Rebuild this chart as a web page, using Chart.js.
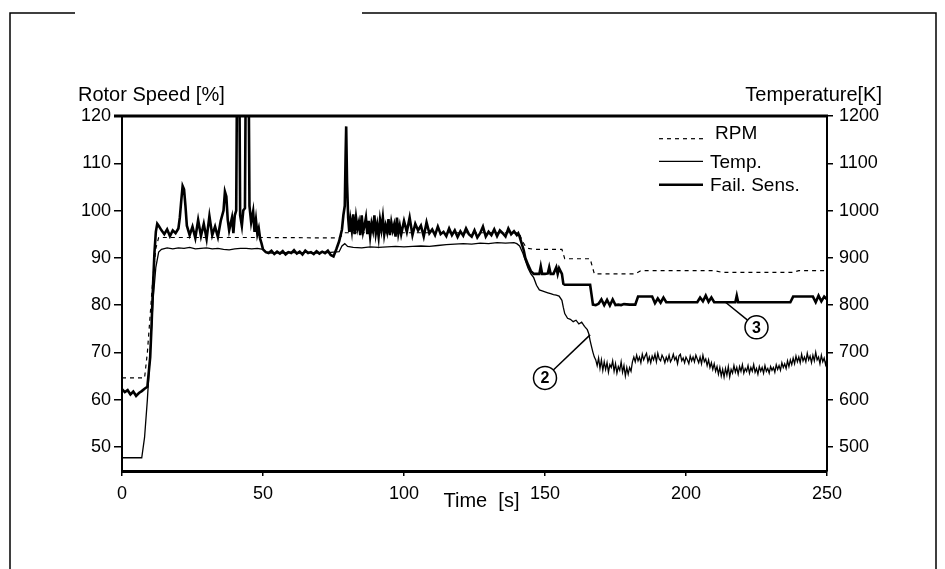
<!DOCTYPE html>
<html>
<head>
<meta charset="utf-8">
<title>Rotor speed and temperature</title>
<script src="https://cdn.jsdelivr.net/npm/chart.js@4.4.1/dist/chart.umd.min.js"></script>
<style>
  html, body { margin: 0; padding: 0; background: #fff; }
  canvas { display: block; }
</style>
</head>
<body>
<canvas id="chart" width="945" height="569"></canvas>
<script>
// tick labels
const timeTicks = [0, 50, 100, 150, 200, 250];
const speedTicks = [50, 60, 70, 80, 90, 100, 110, 120];
const tempTicks = [500, 600, 700, 800, 900, 1000, 1100, 1200];

// titles
const leftTitle = 'Rotor Speed [%]';
const rightTitle = 'Temperature[K]';
const xTitle = 'Time  [s]';
const seriesNames = ['RPM', 'Temp.', 'Fail. Sens.'];

// RPM, % (left axis)
const rpmT = [0, 8, 9, 10, 11, 12, 13, 49, 77, 79, 140, 141, 142, 143, 144, 146, 156, 157, 166, 167.5,
  182, 184, 210, 213, 238, 240, 250];
const rpmV = [64.6, 64.6, 70, 78, 86, 92, 94.3, 94.3, 94.2, 95.3, 95.3, 95, 93.5, 92.5, 92, 91.8, 91.8, 89.8, 89.8, 86.6,
  86.6, 87.3, 87.3, 86.9, 86.9, 87.3, 87.3];

// Temp., K (right axis)
const tempT = [
  0, 7, 8, 9, 10, 11, 12, 13, 14, 16,
  18, 20, 22, 24, 26, 28, 30, 32, 34, 36,
  38, 40, 42, 44, 46, 48, 50, 51, 53, 55,
  57, 59, 61, 63, 65, 67, 69, 71, 73, 75,
  77, 78, 79, 80, 82, 85, 88, 91, 94, 97,
  100, 103, 106, 109, 112, 115, 118, 121, 124, 127,
  130, 133, 136, 139, 140, 141, 142, 143, 144, 145,
  146, 147, 148, 149, 150, 151, 152, 153, 154, 155,
  156, 156.5, 157, 158, 159, 160, 161, 162, 163, 164,
  165, 165.5, 166, 166.5,
  167, 167.5, 168, 168.5, 169, 169.5, 170, 170.5, 171, 171.5,
  172, 172.5, 173, 173.5, 174, 174.5, 175, 175.5, 176, 176.5,
  177, 177.5, 178, 178.5, 179, 179.5, 180, 180.5, 181, 181.5,
  182, 182.5, 183, 183.5, 184, 184.5, 185, 185.5, 186, 186.5,
  187, 187.5, 188, 188.5, 189, 189.5, 190, 190.5, 191, 191.5,
  192, 192.5, 193, 193.5, 194, 194.5, 195, 195.5, 196, 196.5,
  197, 197.5, 198, 198.5, 199, 199.5, 200, 200.5, 201, 201.5,
  202, 202.5, 203, 203.5, 204, 204.5, 205, 205.5, 206, 206.5,
  207, 207.5, 208, 208.5, 209, 209.5, 210, 210.5, 211, 211.5,
  212, 212.5, 213, 213.5, 214, 214.5, 215, 215.5, 216, 216.5,
  217, 217.5, 218, 218.5, 219, 219.5, 220, 220.5, 221, 221.5,
  222, 222.5, 223, 223.5, 224, 224.5, 225, 225.5, 226, 226.5,
  227, 227.5, 228, 228.5, 229, 229.5, 230, 230.5, 231, 231.5,
  232, 232.5, 233, 233.5, 234, 234.5, 235, 235.5, 236, 236.5,
  237, 237.5, 238, 238.5, 239, 239.5, 240, 240.5, 241, 241.5,
  242, 242.5, 243, 243.5, 244, 244.5, 245, 245.5, 246, 246.5,
  247, 247.5, 248, 248.5, 249, 249.5, 250];
const tempK = [
  477, 477, 520, 600, 700, 810, 880, 912, 918, 921,
  919, 921, 920, 922, 919, 920, 921, 919, 920, 918,
  917, 919, 920, 920, 919, 920, 918, 912, 910, 911,
  910, 912, 911, 910, 912, 911, 910, 912, 911, 912,
  913, 925, 930, 924, 922, 921, 923, 922, 923, 924,
  923, 924, 925, 924, 926, 928, 929, 930, 929, 931,
  930, 932, 931, 932, 930, 925, 912, 895, 878, 866,
  858, 842, 832, 830, 828, 826, 824, 822, 821, 819,
  810, 795, 782, 772, 770, 765, 768, 760, 764, 755,
  748, 740, 725, 712,
  700, 690, 684, 672, 688, 666, 684, 662, 680, 664,
  678, 658, 674, 668, 682, 660, 676, 656, 670, 662,
  680, 658, 672, 650, 668, 654, 668, 660, 680, 690,
  680, 694, 682, 690, 678, 696, 684, 692, 698, 680,
  690, 678, 692, 684, 696, 680, 698, 686, 682, 694,
  688, 678, 690, 682, 694, 680, 686, 696, 684, 690,
  676, 692, 696, 682, 688, 678, 690, 684, 676, 692,
  682, 690, 680, 694, 686, 678, 690, 676, 694, 680,
  686, 672, 684, 668, 678, 664, 676, 660, 670, 654,
  668, 650, 664, 648, 666, 652, 670, 648, 664, 656,
  672, 658, 668, 654, 670, 660, 674, 656, 666, 660,
  672, 656, 668, 660, 674, 658, 666, 654, 670, 660,
  668, 656, 672, 660, 666, 656, 670, 662, 668, 658,
  674, 664, 672, 662, 678, 668, 676, 666, 682, 670,
  684, 674, 688, 676, 692, 680, 690, 678, 696, 682,
  690, 680, 698, 684, 692, 678, 694, 682, 700, 684,
  690, 676, 694, 680, 688, 674, 686];

// Fail. Sens., K (right axis)
const failT = [
  0, 1, 2, 3, 4, 5, 6, 7, 8, 9,
  10, 10.5, 11, 11.5, 12, 12.5, 13, 14, 15, 16,
  17, 18, 19, 20, 20.5, 21, 21.5, 22, 22.5, 23,
  24, 25, 26, 27, 28, 29, 30, 31, 32, 33,
  34, 35, 36, 36.5, 37, 37.5, 38, 39, 39.5, 40,
  40.5, 40.8, 41.6, 41.9, 42.5, 43, 43.6, 43.9, 44.9, 45.2,
  45.8, 46.5, 47, 47.5, 48, 48.5, 49, 49.5, 50, 51,
  52, 53, 54, 55, 56, 57, 58, 59, 60, 61,
  62, 63, 64, 65, 66, 67, 68, 69, 70, 71,
  72, 73, 74, 75, 76, 77, 78, 78.5, 79, 79.3,
  79.5, 79.8, 80.2, 80.6, 81, 81.5, 82, 82.5, 83, 83.5,
  84, 84.5, 85, 85.5, 86, 86.5, 87, 87.5, 88, 88.5,
  89, 89.5, 90, 90.5, 91, 91.5, 92, 92.5, 93, 93.5,
  94, 94.5, 95, 95.5, 96, 96.5, 97, 97.5, 98, 98.5,
  99, 100, 101, 102, 103, 104, 105, 106, 107, 108,
  109, 110, 111, 112, 113, 114, 115, 116, 117, 118,
  119, 120, 121, 122, 123, 124, 125, 126, 127, 128,
  129, 130, 131, 132, 133, 134, 135, 136, 137, 138,
  139, 140, 140.5, 141, 141.5, 142, 142.5, 143, 144, 145,
  146, 147, 148, 148.5, 149, 150, 151, 151.5, 152, 153,
  154, 154.5, 155, 156, 156.5, 157, 160, 163, 166, 166.5,
  167, 168, 169, 170, 171, 172, 173, 174, 175, 176,
  177, 178, 180, 182, 183, 184, 186, 188, 189, 190,
  191, 192, 193, 194, 195, 196, 200, 204, 205, 206,
  207, 208, 209, 210, 214, 217.5, 218, 218.5, 225, 230,
  237, 238, 245, 246, 247, 248, 249, 250];
const failK = [
  622, 616, 620, 611, 617, 608, 614, 618, 623, 627,
  690, 760, 840, 910, 955, 972, 968, 958, 950, 960,
  946, 958, 952, 962, 985, 1020, 1052, 1045, 1010, 968,
  948, 966, 942, 980, 946, 972, 940, 988, 948, 966,
  944, 978, 1000, 1040, 1030, 980, 958, 985, 952, 990,
  1000, 1300, 1300, 990, 968, 1000, 1005, 1300, 1300, 1010,
  975, 998, 955, 980, 950, 962, 940, 930, 918, 912,
  910, 915, 908, 913, 909, 914, 907, 912, 910, 916,
  909, 913, 907, 915, 910, 912, 908, 914, 909, 913,
  910, 915, 906, 903, 918, 935, 960, 990, 1010, 1120,
  1178, 1060, 985, 955, 980, 958, 992, 950, 985, 962,
  975, 948, 990, 955, 968, 985, 950, 978, 946, 972,
  958, 990, 952, 970, 945, 980, 960, 985, 950, 968,
  955, 982, 948, 975, 958, 970, 945, 985, 952, 968,
  950, 978, 955, 985, 948, 972, 958, 968, 945, 975,
  952, 960, 948, 966, 950, 955, 946, 962, 948, 958,
  944, 956, 947, 962, 950, 945, 958, 943, 952, 966,
  945, 955, 948, 960, 946, 958, 952, 945, 962, 950,
  956, 948, 952, 945, 935, 925, 915, 900, 885, 872,
  866, 866, 866, 882, 866, 866, 867, 880, 866, 866,
  880, 866, 878, 866, 845, 843, 843, 843, 843, 822,
  801, 800, 803, 812, 800, 811, 799, 812, 800, 801,
  800, 802, 801, 801, 818, 818, 818, 818, 804, 814,
  805, 816, 806, 806, 806, 806, 806, 806, 816, 808,
  820, 807, 816, 806, 806, 806, 820, 806, 806, 806,
  806, 818, 818, 806, 820, 808, 818, 812];

// numbered callouts: label, point on the curve (s, K), circle centre (s, K)
const calloutLabels = ['2', '3'];
const calloutAt = [[166, 737], [214, 806]];
const calloutCircle = [[150, 646], [225, 753]];

const FONT = '"Liberation Sans", Arial, Helvetica, sans-serif';

function pairs(xs, ys) {
  return xs.map((x, i) => ({ x: x, y: ys[i] }));
}

const paper = {
  id: 'paper',
  beforeDraw(chart) {
    const ctx = chart.ctx;
    ctx.save();
    ctx.fillStyle = '#fff';
    ctx.fillRect(0, 0, chart.width, chart.height);
    ctx.restore();
  },
  afterDraw(chart) {
    const ctx = chart.ctx;
    const a = chart.chartArea;
    const sx = chart.scales.x;
    const sy = chart.scales.y1;
    ctx.save();
    ctx.strokeStyle = '#000';
    ctx.fillStyle = '#000';

    // scanned page frame
    ctx.lineWidth = 1.5;
    ctx.beginPath();
    ctx.moveTo(10, chart.height); ctx.lineTo(10, 13); ctx.lineTo(75, 13);
    ctx.moveTo(362, 13); ctx.lineTo(936, 13); ctx.lineTo(936, chart.height);
    ctx.stroke();

    // top edge of the plot box
    ctx.lineWidth = 3;
    ctx.beginPath();
    ctx.moveTo(a.left - 8, a.top);
    ctx.lineTo(a.right + 1, a.top);
    ctx.stroke();

    // axis titles
    ctx.font = '20px ' + FONT;
    ctx.textBaseline = 'alphabetic';
    ctx.textAlign = 'left';
    ctx.fillText(leftTitle, a.left - 44, a.top - 15);
    ctx.textAlign = 'right';
    ctx.fillText(rightTitle, a.right + 55, a.top - 15);
    ctx.textAlign = 'center';
    ctx.fillText(xTitle, (a.left + a.right) / 2 + 7, a.bottom + 36);

    // legend in the top right corner
    const lineY = [22.7, 45.3, 68.7];
    const textY = [22.7, 52, 74.7];
    const textX = [-112, -117, -117];
    ctx.font = '19px ' + FONT;
    ctx.textAlign = 'left';
    chart.data.datasets.forEach((ds, i) => {
      ctx.save();
      ctx.lineWidth = ds.borderWidth;
      ctx.setLineDash(ds.borderDash || []);
      ctx.beginPath();
      ctx.moveTo(a.right - 168, a.top + lineY[i]);
      ctx.lineTo(a.right - 124, a.top + lineY[i]);
      ctx.stroke();
      ctx.restore();
      ctx.fillText(ds.label, a.right + textX[i], a.top + textY[i]);
    });

    // numbered callouts
    ctx.lineWidth = 1.5;
    ctx.font = 'bold 16px ' + FONT;
    ctx.textAlign = 'center';
    ctx.textBaseline = 'middle';
    calloutLabels.forEach((lab, i) => {
      const px = sx.getPixelForValue(calloutAt[i][0]);
      const py = sy.getPixelForValue(calloutAt[i][1]);
      const cx = sx.getPixelForValue(calloutCircle[i][0]);
      const cy = sy.getPixelForValue(calloutCircle[i][1]);
      const r = 11.5;
      const d = Math.hypot(px - cx, py - cy);
      ctx.beginPath();
      ctx.moveTo(px, py);
      ctx.lineTo(cx + (px - cx) * r / d, cy + (py - cy) * r / d);
      ctx.stroke();
      ctx.beginPath();
      ctx.arc(cx, cy, r, 0, Math.PI * 2);
      ctx.fillStyle = '#fff';
      ctx.fill();
      ctx.stroke();
      ctx.fillStyle = '#000';
      ctx.fillText(lab, cx, cy + 1);
    });
    ctx.restore();
  }
};

const tickFont = { family: FONT, size: 18 };
const plainLabel = v => String(v);

const ctx = document.getElementById('chart');
new Chart(ctx, {
  type: 'line',
  data: {
    datasets: [
      {
        label: seriesNames[0],
        data: pairs(rpmT, rpmV),
        yAxisID: 'y',
        borderColor: '#000',
        borderWidth: 1.2,
        borderDash: [4, 4],
        pointRadius: 0,
        tension: 0
      },
      {
        label: seriesNames[1],
        data: pairs(tempT, tempK),
        yAxisID: 'y1',
        borderColor: '#000',
        borderWidth: 1.3,
        pointRadius: 0,
        tension: 0
      },
      {
        label: seriesNames[2],
        data: pairs(failT, failK),
        yAxisID: 'y1',
        borderColor: '#000',
        borderWidth: 2.6,
        pointRadius: 0,
        tension: 0
      }
    ]
  },
  options: {
    responsive: false,
    animation: false,
    devicePixelRatio: 1,
    layout: { padding: { top: 116, left: 0, right: 0, bottom: 0 } },
    plugins: {
      legend: { display: false },
      tooltip: { enabled: false }
    },
    scales: {
      x: {
        type: 'linear',
        min: 0,
        max: 250,
        afterBuildTicks: s => { s.ticks = timeTicks.map(v => ({ value: v })); },
        afterFit: s => { s.height = 98; },
        ticks: { font: tickFont, color: '#000', padding: 7, maxRotation: 0, callback: plainLabel },
        grid: { drawOnChartArea: false, tickLength: 5, color: '#000', lineWidth: 1.5 },
        border: { color: '#000', width: 3 }
      },
      y: {
        position: 'left',
        min: 44.9,
        max: 120,
        afterBuildTicks: s => { s.ticks = speedTicks.map(v => ({ value: v })); },
        afterFit: s => { s.width = 122; },
        ticks: { font: tickFont, color: '#000', padding: 3, callback: plainLabel },
        grid: { drawOnChartArea: false, tickLength: 8, color: '#000', lineWidth: 1.5 },
        border: { color: '#000', width: 2 }
      },
      y1: {
        position: 'right',
        min: 449,
        max: 1200,
        afterBuildTicks: s => { s.ticks = tempTicks.map(v => ({ value: v })); },
        afterFit: s => { s.width = 118; },
        ticks: { font: tickFont, color: '#000', padding: 6, callback: plainLabel },
        grid: { drawOnChartArea: false, tickLength: 6, color: '#000', lineWidth: 1.5 },
        border: { color: '#000', width: 2 }
      }
    }
  },
  plugins: [paper]
});
</script>
</body>
</html>
